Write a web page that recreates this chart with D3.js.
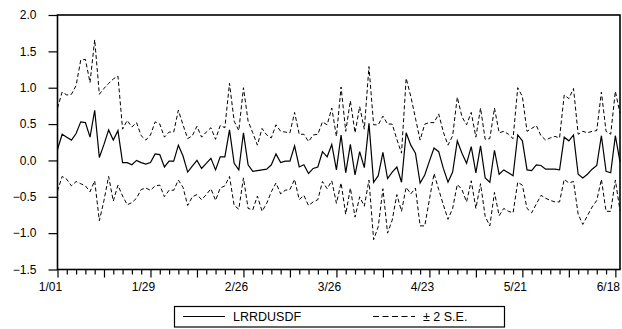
<!DOCTYPE html>
<html>
<head>
<meta charset="utf-8">
<script src="https://cdn.jsdelivr.net/npm/d3@7"></script>
<style>
  body { margin: 0; background: #fff; }
  svg { display: block; font-family: "Liberation Sans", Arial, sans-serif; }
</style>
</head>
<body>
<svg id="chart" width="622" height="329"></svg>
<script>
// recursive residuals (LRRDUSDF), one value per business day from 1/01
const resid = [
  0.15, 0.36, 0.32, 0.28, 0.37, 0.53, 0.52, 0.32, 0.69, 0.04,
  0.22, 0.42, 0.28, 0.41, -0.03, -0.03, -0.06, 0.00, -0.03, -0.05,
  -0.03, 0.09, 0.08, -0.09, -0.01, -0.01, 0.21, 0.06, -0.16, -0.08,
  0.00, -0.11, -0.04, 0.03, -0.13, 0.05, 0.05, 0.42, -0.04, -0.13,
  0.38, -0.06, -0.15, -0.14, -0.13, -0.12, -0.06, 0.09, -0.03, -0.01,
  -0.01, 0.20, -0.09, -0.06, -0.18, -0.11, -0.09, 0.12, 0.05, 0.22,
  -0.13, 0.35, -0.17, 0.22, -0.20, 0.12, -0.10, 0.51, -0.30, -0.21,
  0.11, -0.25, -0.16, -0.09, -0.30, 0.38, 0.21, 0.10, -0.31, -0.20,
  -0.01, 0.17, 0.12, -0.11, -0.30, -0.16, 0.27, 0.10, -0.04, 0.19,
  -0.17, 0.20, -0.24, -0.30, 0.14, -0.19, -0.13, -0.17, -0.21, 0.35,
  0.27, -0.13, -0.14, -0.06, -0.07, -0.12, -0.12, -0.12, -0.13, 0.32,
  0.27, 0.35, -0.19, -0.24, -0.19, -0.12, -0.07, 0.34, -0.15, -0.17,
  0.34, -0.02
];

// two standard errors at each observation
const twoSE = [
  0.57, 0.58, 0.58, 0.63, 0.66, 0.85, 0.87, 0.75, 0.97, 0.87,
  0.77, 0.64, 0.84, 0.75, 0.46, 0.58, 0.52, 0.52, 0.37, 0.33,
  0.38, 0.44, 0.42, 0.41, 0.40, 0.40, 0.48, 0.43, 0.46, 0.42,
  0.47, 0.43, 0.43, 0.42, 0.42, 0.43, 0.40, 0.64, 0.58, 0.54,
  0.62, 0.60, 0.53, 0.35, 0.57, 0.47, 0.37, 0.40, 0.43, 0.40,
  0.39, 0.46, 0.45, 0.42, 0.44, 0.46, 0.45, 0.41, 0.44, 0.50,
  0.46, 0.66, 0.57, 0.60, 0.58, 0.62, 0.53, 0.78, 0.79, 0.70,
  0.50, 0.75, 0.66, 0.38, 0.40, 0.75, 0.67, 0.48, 0.59, 0.70,
  0.53, 0.35, 0.52, 0.50, 0.51, 0.50, 0.60, 0.50, 0.53, 0.47,
  0.49, 0.52, 0.53, 0.60, 0.58, 0.57, 0.53, 0.53, 0.51, 0.65,
  0.61, 0.53, 0.58, 0.54, 0.41, 0.40, 0.43, 0.45, 0.44, 0.58,
  0.58, 0.64, 0.55, 0.64, 0.57, 0.52, 0.48, 0.60, 0.55, 0.53,
  0.61, 0.67
];

const xTickLabels = ["1/01", "1/29", "2/26", "3/26", "4/23", "5/21", "6/18"];
const xTickIndex = [0, 20, 40, 60, 80, 100, 120];
const yTicks = [-1.5, -1.0, -0.5, 0.0, 0.5, 1.0, 1.5, 2.0];
const legendItems = ["LRRDUSDF", "\u00b1 2 S.E."];

const svg = d3.select("#chart");
const plotL = 57.5, plotR = 620, plotT = 15, plotB = 269.5;

const x = d3.scaleLinear().domain([0, resid.length - 1]).range([plotL, plotR]);
const y = d3.scaleLinear().domain([-1.5, 2.0]).range([plotB, plotT]);

const line = d3.line()
    .x((d, i) => x(i))
    .y(d => y(d));

const upper = resid.map((r, i) => r + twoSE[i]);
const lower = resid.map((r, i) => r - twoSE[i]);

// bands
[upper, lower].forEach(s => {
    svg.append("path")
        .attr("d", line(s))
        .attr("fill", "none")
        .attr("stroke", "#000")
        .attr("stroke-width", 1)
        .attr("stroke-dasharray", "4,2.5");
});

svg.append("path")
    .attr("d", line(resid))
    .attr("fill", "none")
    .attr("stroke", "#000")
    .attr("stroke-width", 1.2);

// frame
svg.append("rect")
    .attr("x", plotL).attr("y", plotT)
    .attr("width", plotR - plotL).attr("height", plotB - plotT)
    .attr("fill", "none")
    .attr("stroke", "#000")
    .attr("stroke-width", 1.6);

// y axis
const yAxis = svg.append("g")
    .attr("transform", "translate(" + plotL + ",0)")
    .call(d3.axisLeft(y).tickValues(yTicks).tickFormat(d3.format(".1f")).tickSize(9).tickPadding(12));
yAxis.select(".domain").remove();
yAxis.selectAll("text").style("font-size", "12px").attr("fill", "#000").attr("font-family", null);
yAxis.selectAll("line").attr("stroke-width", 1.2);

// x axis: minor every 2 obs, major every 10
const minor = d3.range(0, resid.length, 2).filter(i => i % 10 !== 0);
const major = d3.range(0, resid.length, 10);

svg.append("g")
    .attr("transform", "translate(0," + plotB + ")")
    .call(d3.axisBottom(x).tickValues(minor).tickSize(5).tickFormat(""))
    .call(g => g.select(".domain").remove())
    .selectAll("line").attr("stroke-width", 1.2);

svg.append("g")
    .attr("transform", "translate(0," + plotB + ")")
    .call(d3.axisBottom(x).tickValues(major).tickSize(8).tickFormat(""))
    .call(g => g.select(".domain").remove())
    .selectAll("line").attr("stroke-width", 1.2);

svg.selectAll(".xlab")
    .data(xTickLabels)
    .enter().append("text")
    .attr("class", "xlab")
    .attr("x", (d, i) => x(xTickIndex[i]) - 7)
    .attr("y", 290.5)
    .attr("text-anchor", "middle")
    .style("font-size", "12px")
    .text(d => d);

// legend
const lg = svg.append("g");
lg.append("rect")
    .attr("x", 174.5).attr("y", 306.5)
    .attr("width", 330).attr("height", 20.5)
    .attr("fill", "#fff")
    .attr("stroke", "#000")
    .attr("stroke-width", 1.2);

lg.append("line")
    .attr("x1", 183).attr("x2", 225).attr("y1", 316.5).attr("y2", 316.5)
    .attr("stroke", "#000").attr("stroke-width", 1.2);
lg.append("line")
    .attr("x1", 373).attr("x2", 415).attr("y1", 316.5).attr("y2", 316.5)
    .attr("stroke", "#000").attr("stroke-width", 1)
    .attr("stroke-dasharray", "6,3.5");

lg.selectAll("text")
    .data(legendItems)
    .enter().append("text")
    .attr("x", (d, i) => i === 0 ? 233 : 423)
    .attr("y", 321)
    .style("font-size", "12.5px")
    .text(d => d);
</script>
</body>
</html>
